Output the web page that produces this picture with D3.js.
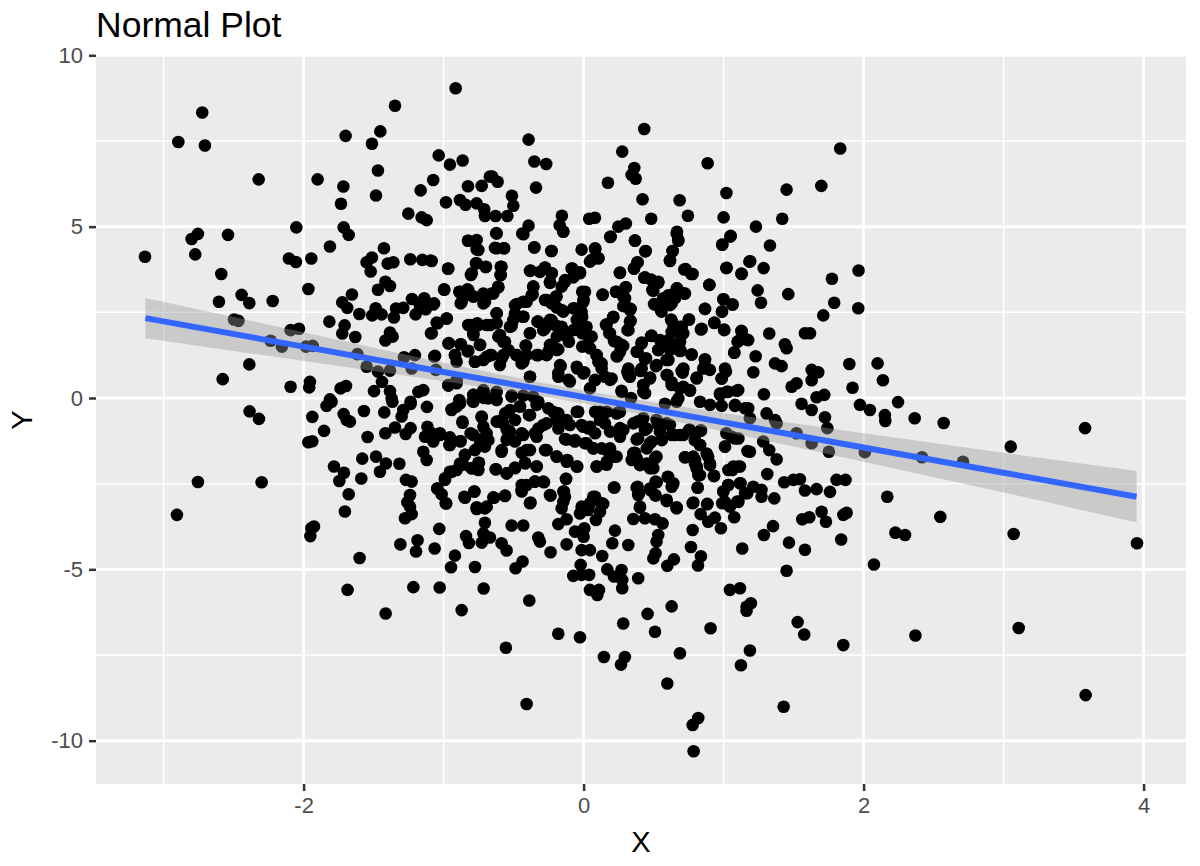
<!DOCTYPE html>
<html lang="en">
<head>
<meta charset="UTF-8">
<title>Normal Plot</title>
<style>
	html, body { margin: 0; background: #fff; }
	svg { display: block; }
	text { font-family: 'Liberation Sans', Arial, sans-serif; }
</style>
<script src="https://d3js.org/d3.v7.min.js"></script>
</head>
<body>
<svg id="container"></svg>
<script>
// tick labels
const xTicks = [-2, 0, 2, 4];
const yTicks = [-10, -5, 0, 5, 10];
const xMinor = [-3, -1, 1, 3];
const yMinor = [-7.5, -2.5, 2.5, 7.5];

// fitted line and its confidence band
const fitX = [-3.13, -2, -1, 0, 1, 1.9, 3, 3.95];
const fitY = [2.33, 1.5, 0.76, 0.03, -0.71, -1.37, -2.18, -2.88];
const fitUpper = [2.92, 1.92, 1.03, 0.22, -0.44, -0.97, -1.6, -2.13];
const fitLower = [1.74, 1.08, 0.49, -0.16, -0.98, -1.77, -2.76, -3.63];

// points, split by part of the panel
const pointsUpperLeft = [[-.914,9.04],[-1.347,8.53],[-2.724,8.33],[-2.895,7.47],[-2.705,7.37],[-1.7,7.65],[-1.452,7.78],[-1.512,7.42],[-1.035,7.08],[-.864,6.93],[-.955,6.81],[-1.469,6.64],[-2.321,6.38],[-1.9,6.38],[-1.716,6.17],[-1.074,6.36],[-1.164,6.06],[-1.483,5.91],[-.826,6.18],[-.728,6.19],[-.67,6.46],[-1.733,5.67],[-.983,5.71],[-.883,5.78],[-.843,5.64],[-.764,5.68],[-.71,5.51],[-.705,5.31],[-1.252,5.38],[-1.157,5.27],[-1.121,5.19],[-2.052,4.98],[-1.714,4.98],[-1.678,4.76],[-2.755,4.79],[-2.8,4.64],[-2.54,4.76],[-2.774,4.19],[-3.133,4.12],[-1.812,4.42],[-.826,4.59],[-.764,4.61],[-.764,4.34],[-1.426,4.37],[-2.105,4.07],[-2.055,3.97],[-1.945,4.07],[-1.512,4.1],[-1.55,3.96],[-1.521,3.69],[-1.4,3.92],[-1.359,3.96],[-1.238,4.05],[-1.152,4.03],[-1.093,4.01],[-.969,3.77],[-.769,3.93],[-.7,3.82],[-.805,3.59],[-2.588,3.62],[-1.966,3.18],[-1.416,3.39],[-1.383,3.27],[-1.469,3.16],[-.995,3.16],[-.888,3.1],[-.824,3.15],[-.859,2.96],[-.788,2.96],[-.705,3],[-.878,2.76],[-.716,2.76],[-2.443,3.01],[-2.388,2.77],[-2.221,2.83],[-2.605,2.81],[-1.655,3.02],[-1.724,2.79],[-1.688,2.63],[-1.602,2.45],[-1.485,2.62],[-1.51,2.41],[-1.443,2.44],[-1.34,2.61],[-1.288,2.63],[-1.355,2.35],[-1.226,2.89],[-1.138,2.91],[-1.169,2.71],[-1.074,2.73],[-1.128,2.59],[-1.2,2.44],[-.978,2.32],[-1.043,2.18],[-1.09,1.89],[-.824,2.13],[-.76,2.18],[-.693,2.13],[-.788,1.89],[-1.816,2.23],[-1.707,2.12],[-1.724,1.88],[-1.631,1.78],[-1.383,1.91],[-1.364,1.79],[-1.416,1.68],[-.962,1.6],[-.878,1.57],[-.919,1.25],[-.828,1.36],[-.74,1.55],[-.907,1.06],[-.776,1.06],[-.693,1.2],[-2.497,2.29],[-2.466,2.25],[-2.093,1.98],[-2.033,2.02],[-2.236,1.67],[-2.155,1.5],[-1.983,1.5],[-1.935,1.52],[-1.616,1.28],[-1.55,.91],[-1.469,.77],[-1.383,.8],[-1.283,1.19],[-1.205,1.25],[-1.067,1.21],[-1.228,.86],[-1.055,.82],[-2.388,.98],[-2.578,.55],[-2.093,.33],[-1.955,.47],[-1.96,.31],[-1.736,.28],[-1.697,.35],[-1.44,.47],[-1.497,.2],[-1.383,.2],[-1.18,.18],[-1.145,.23],[-.966,.36],[-.907,.52],[-.788,.09],[-.716,.23],[-1.812,-.04],[-1.371,-.01],[-1.236,-.11],[-.888,-.06],[-.71,0]];

const pointsUpperRight = [[.433,7.85],[-.393,7.54],[.276,7.19],[1.833,7.28],[-.352,6.9],[-.267,6.83],[.886,6.85],[.362,6.71],[.343,6.51],[.372,6.4],[.174,6.28],[-.652,6.46],[-.614,6.31],[-.34,6.14],[1.698,6.19],[1.45,6.08],[1.02,5.98],[-.512,5.9],[.421,5.8],[.686,5.77],[-.502,5.61],[-.629,5.31],[-.545,5.31],[-.155,5.32],[.04,5.23],[.081,5.26],[.483,5.23],[.745,5.32],[1,5.27],[1.419,5.23],[-.393,5.03],[-.171,5.04],[-.145,4.86],[-.438,4.8],[-.624,4.81],[.302,5.09],[.248,5],[.19,4.7],[.667,4.85],[1.231,5],[.676,4.61],[1.048,4.71],[.99,4.47],[1.331,4.45],[.367,4.6],[-.352,4.39],[-.231,4.29],[-.633,4.38],[-.569,4.37],[-.014,4.33],[.083,4.34],[.44,4.28],[.636,4.29],[.617,4.02],[.105,4.08],[.045,3.98],[1.19,3.99],[1.964,3.72],[.383,3.95],[.36,3.78],[-.586,3.83],[1.019,3.79],[1.286,3.79],[-.379,3.72],[-.276,3.8],[-.086,3.78],[.719,3.75],[.769,3.62],[1.129,3.62],[.259,3.65],[-.312,3.68],[-.228,3.64],[-.026,3.67],[-.593,3.59],[1.774,3.48],[-.074,3.52],[-.133,3.39],[-.24,3.36],[.433,3.51],[.533,3.36],[.898,3.3],[-.61,3.25],[-.36,3.25],[.302,3.23],[.01,3.1],[.498,3.13],[.669,3.2],[1.243,3.14],[1.462,3.03],[.231,3.1],[.136,3.01],[.283,2.96],[-.364,3.03],[-.645,3.05],[.724,3.05],[.617,3],[.569,2.91],[.998,2.88],[1.062,2.73],[1.267,2.78],[1.79,2.78],[1.962,2.62],[.51,2.73],[.629,2.76],[.557,2.52],[.295,2.71],[.331,2.57],[0,2.86],[-.062,2.61],[-.014,2.52],[-.193,2.96],[-.276,2.86],[-.157,2.57],[-.229,2.76],[-.49,2.71],[-.431,2.81],[.867,2.6],[.988,2.52],[-.621,2.47],[-.431,2.37],[-.49,2.42],[1.712,2.41],[.21,2.35],[.331,2.23],[.752,2.29],[.629,2.25],[.933,2.19],[-.324,2.23],[-.229,2.27],[.164,2.15],[-.514,2.1],[-.621,2.18],[-.038,2.18],[.021,2.08],[.688,2.08],[-.181,2.08],[.838,2],[1.005,1.98],[-.288,1.98],[.314,1.98],[.188,1.89],[-.383,1.89],[-.133,1.93],[1.129,1.95],[1.326,1.88],[1.581,1.89],[1.617,1.89],[-.026,1.98],[-.598,1.84],[.629,1.93],[.712,1.89],[.486,1.82],[.033,1.79],[1.176,1.69],[1.105,1.66],[-.105,1.64],[-.574,1.64],[.236,1.64],[.414,1.59],[.557,1.64],[.617,1.59],[.688,1.64],[1.438,1.57],[1.45,1.45],[.283,1.52],[-.414,1.53],[.033,1.5],[-.229,1.55],[-.181,1.42],[.533,1.4],[.629,1.45],[.379,1.35],[-.252,1.35],[.688,1.37],[1.076,1.32],[.093,1.25],[-.324,1.25],[.771,1.27],[1.229,1.22],[.236,1.22],[-.574,1.25],[-.479,1.25],[-.407,1.25],[-.657,1.25],[.438,1.14],[.593,1.11],[.867,1.13],[.105,1.06],[.129,.86],[-.443,1.01],[-.598,.96],[1.367,1.01],[1.414,.93],[1.898,.99],[2.1,1.01],[.517,.93],[-.164,.93],[-.045,.86],[.855,.86],[.902,.82],[1.629,.82],[1.676,.75],[.7,.79],[1.212,.75],[.005,.75],[.312,.77],[.407,.79],[1.017,.77],[-.181,.72],[.152,.62],[.2,.57],[-.383,.62],[.593,.67],[.331,.62],[.474,.57],[.986,.57],[.807,.57],[1.629,.52],[2.138,.52],[-.098,.48],[.081,.52],[.629,.46],[1.521,.43],[1.486,.33],[1.921,.3],[.712,.33],[.426,.38],[.045,.28],[.271,.21],[.76,.23],[.426,.18],[1.105,.23],[1.033,.18],[.974,.13],[1.288,.11],[1.719,.09],[1.664,.02],[-.514,.07],[-.431,.07],[-.36,.04],[-.621,.18]];

const pointsLowerLeft = [[-2.386,-.39],[-2.319,-.61],[-1.938,-.55],[-1.836,-.23],[-1.8,-.11],[-1.714,-.47],[-1.693,-.64],[-1.669,-.69],[-1.569,-.38],[-1.424,-.42],[-1.366,-.11],[-1.235,-.17],[-1.288,-.35],[-1.3,-.54],[-1.119,-.26],[-.943,-.35],[-.907,-.25],[-.793,-.09],[-.728,-.54],[-.864,-.72],[-1.854,-.96],[-1.966,-1.29],[-1.938,-1.26],[-1.543,-1.14],[-1.416,-1.03],[-1.347,-.86],[-1.271,-1.05],[-1.236,-.88],[-1.133,-1.13],[-1.116,-.84],[-1.097,-1.08],[-1.026,-1.03],[-1.074,-1.27],[-.959,-1.37],[-.955,-1.15],[-.878,-1.26],[-.807,-1.03],[-.74,-1.22],[-.693,-1.03],[-.776,-1.52],[-.705,-1.42],[-1.145,-1.57],[-1.121,-1.81],[-.847,-1.66],[-1.581,-1.77],[-1.483,-1.71],[-1.412,-1.91],[-1.316,-1.92],[-1.455,-2.15],[-1.783,-2],[-1.712,-2.18],[-1.745,-2.42],[-1.588,-2.35],[-1.269,-2.39],[-1.228,-2.44],[-.883,-1.91],[-.907,-2.1],[-.955,-2.15],[-.99,-2.39],[-.752,-1.89],[-.8,-2.05],[-.752,-2.1],[-2.755,-2.45],[-2.3,-2.46],[-2.905,-3.41],[-1.678,-2.81],[-1.24,-2.83],[-1.259,-3.04],[-1.045,-2.64],[-1.014,-2.81],[-.981,-3.08],[-.847,-2.91],[-.781,-2.73],[-1.24,-3.17],[-1.705,-3.31],[-1.228,-3.39],[-1.276,-3.51],[-.764,-3.24],[-.705,-3.22],[-.705,-3.64],[-1.031,-3.82],[-1.926,-3.75],[-1.945,-3.8],[-1.952,-4.03],[-.84,-4.03],[-.819,-4.23],[-.716,-3.95],[-.728,-4.22],[-1.186,-4.15],[-1.197,-4.48],[-1.309,-4.27],[-1.064,-4.39],[-.919,-4.6],[-.947,-4.94],[-.776,-4.93],[-1.6,-4.67],[-1.216,-5.52],[-1.028,-5.53],[-.714,-5.56],[-1.686,-5.6],[-.871,-6.19],[-1.414,-6.29]];

const pointsLowerRight = [[.786,-10.31],[.819,-9.34],[.779,-9.54],[1.429,-9.01],[-.407,-8.93],[.598,-8.33],[1.124,-7.8],[1.188,-7.37],[.688,-7.45],[.267,-7.78],[.295,-7.56],[.145,-7.56],[-.555,-7.29],[1.855,-7.21],[-.026,-6.98],[-.181,-6.88],[.51,-6.82],[.907,-6.72],[1.576,-6.9],[1.529,-6.54],[.283,-6.58],[.457,-6.3],[.629,-6.08],[-.388,-5.91],[1.164,-6.21],[1.195,-5.99],[1.164,-6.09],[1.045,-5.6],[1.117,-5.55],[.098,-5.75],[.045,-5.6],[.11,-5.6],[.276,-5.55],[.39,-5.26],[.276,-5.31],[-.074,-5.19],[-.014,-5.16],[.04,-5.16],[-.021,-4.87],[.169,-5],[.271,-5.02],[.217,-5.21],[.133,-4.61],[.598,-4.9],[.645,-4.71],[.498,-4.68],[.514,-4.53],[.817,-4.89],[.838,-4.62],[.767,-4.35],[1.45,-5.04],[2.074,-4.86],[1.133,-4.39],[1.581,-4.43],[1.467,-4.22],[1.84,-4.13],[1.288,-4],[1.353,-3.74],[.981,-3.8],[.779,-3.85],[.521,-4.19],[.533,-4],[.319,-4.29],[.205,-4.24],[.224,-3.87],[.045,-4.44],[-.014,-4.44],[0,-4.05],[.005,-3.8],[-.062,-3.9],[-.121,-4.27],[-.236,-4.5],[-.312,-4.19],[-.324,-4.07],[-.55,-4.45],[-.586,-4.24],[-.436,-4.77],[-.486,-4.97],[-.669,-4.07],[-.514,-3.72],[-.431,-3.72],[-.181,-3.68],[-.121,-3.54],[.088,-3.56],[-.026,-3.37],[.033,-3.27],[.117,-3.32],[.14,-3.09],[.069,-2.88],[-.157,-3.22],[-.14,-2.73],[-.236,-2.85],[-.133,-2.88],[-.379,-3.05],[-.64,-2.91],[-.562,-2.86],[-.443,-2.68],[-.407,-2.54],[-.288,-2.44],[-.348,-2.44],[-.126,-2.36],[.217,-2.61],[.402,-3.2],[.379,-2.61],[.39,-2.83],[.355,-3.53],[.438,-3.51],[.51,-3.54],[.564,-3.66],[.593,-2.97],[.664,-3.22],[.51,-2.83],[.474,-2.64],[.514,-2.44],[.605,-2.31],[.636,-2.54],[.814,-2.62],[.779,-3.07],[.883,-3.1],[.836,-3.39],[.89,-3.61],[.938,-3.49],[1.076,-3.48],[1.098,-3.02],[.99,-3.07],[1.045,-3.17],[.998,-2.73],[1.033,-2.54],[1.121,-2.49],[1.169,-2.78],[1.212,-2.59],[1.271,-2.68],[1.271,-2.88],[1.362,-2.93],[1.312,-2.22],[1.433,-2.46],[1.498,-2.39],[1.545,-2.37],[1.581,-2.7],[1.664,-2.66],[1.76,-2.74],[1.807,-2.39],[1.871,-2.39],[1.562,-3.54],[1.612,-3.48],[1.7,-3.32],[1.731,-3.61],[1.855,-3.41],[1.879,-3.35],[2.169,-2.88],[1.062,-2.1],[1.105,-2],[.807,-2.05],[.819,-2.25],[.931,-2.28],[.724,-1.73],[.783,-1.71],[.795,-1.91],[.89,-1.71],[.902,-1.91],[1.379,-1.79],[1.326,-1.52],[1.283,-1.27],[1.188,-1.57],[1.01,-1.42],[.795,-1.23],[.831,-1.37],[.836,-.95],[.76,-.93],[.712,-1.08],[.652,-1.08],[.474,-1.32],[.355,-1.61],[.39,-1.18],[.438,-.93],[.545,-.98],[.426,-.59],[.521,-.64],[.593,-.74],[.379,-1.76],[.45,-1.91],[.521,-1.71],[.498,-2.05],[.093,-2],[.164,-1.95],[.236,-1.71],[.164,-1.52],[.069,-1.47],[.021,-1.32],[-.062,-1.27],[-.121,-1.21],[-.045,-2],[-.121,-1.86],[-.193,-1.71],[-.276,-1.52],[-.407,-1.52],[-.586,-1.57],[-.626,-2.08],[-.55,-2.2],[-.49,-2.05],[-.419,-1.89],[-.336,-2],[-.55,-1.22],[-.526,-.98],[-.431,-1.08],[-.348,-1.03],[-.288,-.79],[-.193,-.64],[-.098,-.79],[-.002,-.84],[.117,-.4],[.152,-.74],[.26,-.88],[.236,-.45],[-.038,-.4],[-.217,-.4],[-.383,-.5],[-.526,-.35],[-.621,-.69],[-.574,-.74],[-.455,-.25],[-.336,-.2],[.581,-.17],[.664,-.11],[1.081,-.23],[1.176,-.3],[1.307,-.45],[1.367,-.64],[1.521,-1.03],[1.629,-1.32],[1.752,-1.57],[2.009,-1.58],[1.557,-.17],[1.629,-.35],[1.724,-.56],[1.741,-.88],[1.974,-.2],[2.045,-.35],[2.152,-.5],[1.081,-1.18],[1.02,-1.03],[1.379,-.74],[1.188,-.59]];

const pointsFarRight = [[2.246,-.12],[2.155,-.67],[2.365,-.59],[2.572,-.73],[3.582,-.88],[3.051,-1.42],[2.417,-1.73],[2.71,-1.86],[2.548,-3.47],[2.227,-3.93],[2.296,-4],[3.072,-3.97],[3.953,-4.24],[2.37,-6.93],[3.108,-6.71],[3.586,-8.67]];

const pointsCentreTop = [[-.823,4.59],[-.752,4.32],[-.621,4.8],[-.621,4.37],[-.568,4.37],[-.43,4.78],[-.352,4.4],[-.228,4.29],[-.145,4.85],[-1.085,4],[-.966,3.78],[-.764,3.93],[-.697,3.83],[-.799,3.64],[-.592,3.83],[-.592,3.59],[-.383,3.71],[-.276,3.81],[-.228,3.64],[-.24,3.39],[-.08,3.78],[-.026,3.64],[-.133,3.44],[-.157,3.25],[-.609,3.23],[-.657,3.05],[-.716,3.05],[-.788,2.96],[-.83,3.17],[-.883,3.1],[-.871,2.81],[-.997,3.17],[-1.068,2.76],[-.704,2.81],[-.359,3.25],[-.371,3],[-.478,2.74],[-.407,2.81],[-.264,2.86],[-.197,2.96],[-.192,2.64],[-.145,2.52],[-.01,3.1],[-.002,2.81],[-.073,2.62],[-.621,2.47],[-.49,2.47],[-.43,2.37],[-.502,2.28],[-.526,2.08],[-.978,2.32],[-1.05,2.2],[-1.085,1.89],[-.811,2.13],[-.752,2.13],[-.668,2.13],[-.787,1.84],[-.609,1.79],[-.33,2.23],[-.24,2.28],[-.276,2.03],[-.157,2.08],[-.204,2.13],[-.049,2.28],[-.01,2.37],[-.383,1.89],[-.121,1.79],[-.192,1.79],[-.01,1.89],[-.073,1.98],[-.966,1.59],[-.878,1.57],[-.74,1.55],[-.823,1.38],[-.918,1.25],[-1.061,1.23],[-.561,1.64],[-.537,1.4],[-.411,1.52],[-.24,1.55],[-.192,1.4],[-.335,1.25],[-.478,1.25],[-.264,1.25],[-.668,1.25],[-.776,1.06],[-.716,1.11],[-.585,1.16],[-.43,1.06],[-.168,.96],[-.049,.91],[-.01,1.5],
	[.194,4.71],[.367,4.59],[.444,4.29],[.665,4.8],[.677,4.59],[.636,4.29],[.617,4],[1.051,4.73],[.991,4.48],[.082,4.37],[.106,4.08],[.058,4.03],[.386,3.96],[.36,3.78],[.26,3.66],[.729,3.76],[.779,3.62],[1.022,3.8],[1.127,3.63],[1.184,3.98],[.439,3.52],[.482,3.46],[.534,3.39],[.491,3.15],[.898,3.3],[.301,3.23],[.232,3.1],[.136,3.02],[.296,2.91],[.665,3.2],[.72,3.05],[.606,3],[.575,2.86],[.653,2.91],[.503,2.74],[.617,2.71],[.551,2.57],[.284,2.68],[.336,2.6],[1,2.88],[1.065,2.73],[.989,2.52],[.867,2.6],[.934,2.2],[.844,2.02],[1.003,2],[.213,2.37],[.336,2.25],[.16,2.13],[.32,1.98],[.184,1.89],[.625,2.29],[.753,2.29],[.701,2.08],[.641,2.03],[.701,1.84],[1.127,1.96],[1.16,1.71],[1.1,1.64],[1.077,1.33],[.482,1.81],[.415,1.62],[.386,1.35],[.446,1.16],[.217,1.66],[.272,1.55],[.26,1.35],[.241,1.22],[.058,1.79],[.546,1.69],[.606,1.69],[.534,1.4],[.617,1.4],[.689,1.64],[.694,1.38],[.606,1.11],[.772,1.27],[.522,.96],[.867,1.11],[.867,.91],[.094,1.25],[.129,1.01],[.046,1.45],[.32,.86],[.415,.86],[.713,.86],[1.01,.86]];

const pointsCentreBottom = [[-.966,.38],[-.907,.43],[-.787,.09],[-.787,-.11],[-.716,.18],[-.68,-.01],[-.621,-.06],[-.514,.04],[-.383,.62],[-.18,.62],[-.109,.53],[-.002,.72],[-.883,-.16],[-.942,-.33],[-.866,-.69],[-.728,-.56],[-.716,-.84],[-.787,-1.08],[-.883,-1.26],[-.954,-1.37],[-1.026,-1.08],[-1.085,-1.03],[-.68,-1.23],[-.74,-1.37],[-.561,-.45],[-.585,-.64],[-.49,-.64],[-.454,-.25],[-.39,-.5],[-.323,-.11],[-.252,-.3],[-.18,-.45],[-.121,-.64],[-.049,-.4],[-.014,-.79],[.034,-.89],[-.264,-.74],[-.323,-.89],[-.18,-.89],[-.549,-.93],[-.442,-1.03],[-.526,-1.18],[-.585,-1.52],[-.335,-1.13],[-.49,-1.27],[-.133,-1.2],[-.061,-1.23],[.01,-1.32],[-.264,-1.52],[-.383,-1.52],[-.442,-1.6],[-.192,-1.71],[-.116,-1.81],[-.049,-2],[-.418,-1.91],[-.335,-2],[-.49,-2.03],[-.549,-2.2],[-.628,-2.08],[-.747,-1.89],[-.847,-1.66],[-.799,-2.05],[-.859,-1.95],[-.942,-2.15],[-.99,-2.34],[-.125,-2.36],[-.442,-2.54],[-.347,-2.44],[-.283,-2.46],[-.442,-2.73],[-1.045,-2.64],[-.985,-3.07],[-.78,-2.73],[-.852,-2.88],[-.645,-2.9],[-.561,-2.85],[-.383,-3.07],[-.24,-2.83],[-.145,-2.73],[-.145,-3.03],[-.764,-3.19],[-.692,-3.17],[-.014,-3.17],
	[.082,.53],[.189,.53],[.32,.67],[.427,.38],[.475,.6],[.439,.14],[.272,.18],[.339,0],[.598,.67],[.629,.38],[.708,.74],[.808,.6],[.689,.28],[.76,.21],[.986,.57],[1.022,.18],[1.094,.21],[.975,.09],[.832,-.11],[.903,-.2],[.986,-.23],[1.082,-.2],[1.153,-.3],[.677,-.01],[.082,-.4],[.165,-.4],[.26,-.4],[.384,-.69],[.356,-.74],[.451,-.89],[.534,-.79],[.617,-.79],[.753,-.93],[.839,-.95],[.689,-1.08],[.629,-1.08],[.796,-1.23],[.832,-1.37],[.879,-1.62],[.903,-1.96],[.932,-2.27],[.796,-1.81],[.725,-1.73],[.808,-2],[.832,-2.25],[1.01,-1.42],[1.106,-1.18],[1.058,-1.13],[1.17,-1.55],[.284,-.93],[.26,-1.13],[.189,-.98],[.117,-.64],[.082,-1.03],[.046,-.84],[.379,-1.21],[.486,-1.27],[.558,-1.23],[.451,-1.47],[.367,-1.6],[.344,-1.81],[.51,-1.76],[.475,-2.05],[.403,-1.96],[.213,-1.71],[.165,-1.86],[.094,-2],[.189,-1.47],[.07,-1.47],[.129,-1.47],[.22,-2.61],[.386,-2.59],[.396,-2.78],[.522,-2.46],[.479,-2.69],[.515,-2.85],[.601,-2.3],[.641,-2.49],[.629,-2.59],[.815,-2.61],[.594,-3.01],[.403,-3.17],[.665,-3.19],[.784,-3.05],[.884,-3.09],[1.034,-2.54],[.998,-2.73],[1.117,-2.49],[1.153,-2.78],[1.01,-3.03],[1.106,-3.03],[1.07,-2],[1.034,-2.1],[1.117,-2],[.082,-2.88],[.129,-3.07],[.046,-3.07]];

const allPoints = [...pointsUpperLeft, ...pointsUpperRight, ...pointsLowerLeft, ...pointsLowerRight, ...pointsFarRight, ...pointsCentreTop, ...pointsCentreBottom];

const width = 1200, height = 866;
const panel = { left: 96, right: 1186, top: 56, bottom: 784 };

const svg = d3.select('#container').attr('width', width).attr('height', height);

const x = d3.scaleLinear().domain([-3.483, 4.303]).range([panel.left, panel.right]);
const y = d3.scaleLinear().domain([-11.264, 9.98]).range([panel.bottom, panel.top]);

// panel background
svg.append('rect')
	.attr('x', panel.left).attr('y', panel.top)
	.attr('width', panel.right - panel.left).attr('height', panel.bottom - panel.top)
	.attr('fill', '#EBEBEB');

// grid
const grid = svg.append('g').attr('stroke', '#fff');
grid.selectAll('.minor-x').data(xMinor).join('line')
	.attr('x1', d => x(d)).attr('x2', d => x(d)).attr('y1', panel.top).attr('y2', panel.bottom)
	.attr('stroke-width', 1.5);
grid.selectAll('.minor-y').data(yMinor).join('line')
	.attr('y1', d => y(d)).attr('y2', d => y(d)).attr('x1', panel.left).attr('x2', panel.right)
	.attr('stroke-width', 1.5);
grid.selectAll('.major-x').data(xTicks).join('line')
	.attr('x1', d => x(d)).attr('x2', d => x(d)).attr('y1', panel.top).attr('y2', panel.bottom)
	.attr('stroke-width', 3);
grid.selectAll('.major-y').data(yTicks).join('line')
	.attr('y1', d => y(d)).attr('y2', d => y(d)).attr('x1', panel.left).attr('x2', panel.right)
	.attr('stroke-width', 3);

// points
svg.append('g').selectAll('circle').data(allPoints).join('circle')
	.attr('cx', d => x(d[0]))
	.attr('cy', d => y(d[1]))
	.attr('r', 6.3)
	.attr('fill', '#000');

// band and line go over the points
const band = d3.area()
	.x((d, i) => x(fitX[i]))
	.y0((d, i) => y(fitLower[i]))
	.y1((d, i) => y(fitUpper[i]))
	.curve(d3.curveMonotoneX);
svg.append('path').datum(fitX)
	.attr('d', band)
	.attr('fill', '#999').attr('fill-opacity', 0.4);

const line = d3.line()
	.x((d, i) => x(fitX[i]))
	.y((d, i) => y(fitY[i]));
svg.append('path').datum(fitX)
	.attr('d', line)
	.attr('fill', 'none').attr('stroke', '#3366FF').attr('stroke-width', 6);

// axes
const xAxis = svg.append('g')
	.attr('transform', `translate(0,${panel.bottom})`)
	.call(d3.axisBottom(x).tickValues(xTicks).tickSize(7).tickPadding(6).tickFormat(d => String(d)));
const yAxis = svg.append('g')
	.attr('transform', `translate(${panel.left},0)`)
	.call(d3.axisLeft(y).tickValues(yTicks).tickSize(7).tickPadding(6).tickFormat(d => String(d)));
[xAxis, yAxis].forEach(axis => {
	axis.select('.domain').remove();
	axis.selectAll('.tick line').attr('stroke', '#333').attr('stroke-width', 2.5);
	axis.selectAll('.tick text').attr('fill', '#4D4D4D').attr('font-size', 22)
		.attr('font-family', "'Liberation Sans', Arial, sans-serif");
});

// titles
svg.append('text').attr('x', 96).attr('y', 37)
	.attr('font-size', 35.5).attr('fill', '#000').text('Normal Plot');
svg.append('text').attr('x', (panel.left + panel.right) / 2).attr('y', 852)
	.attr('text-anchor', 'middle').attr('font-size', 29).attr('fill', '#000').text('X');
svg.append('text')
	.attr('transform', `translate(32,${(panel.top + panel.bottom) / 2}) rotate(-90)`)
	.attr('text-anchor', 'middle').attr('font-size', 29).attr('fill', '#000').text('Y');
</script>
</body>
</html>
